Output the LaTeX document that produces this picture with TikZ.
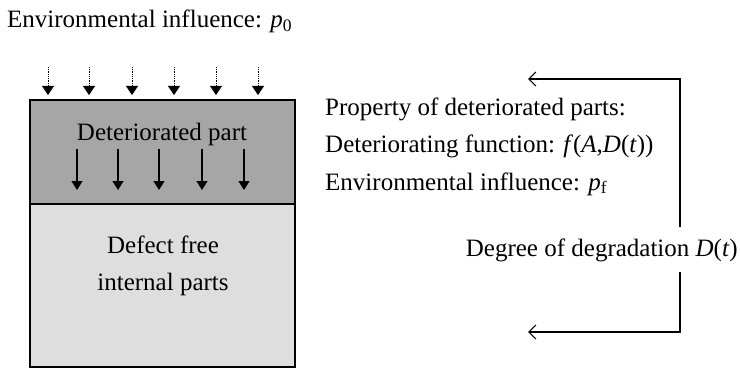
\documentclass[tikz,border=0pt]{standalone}
\usepackage{fontspec}
\setmainfont{Liberation Serif}
\usetikzlibrary{arrows.meta}
\definecolor{darkpart}{RGB}{166,166,166}
\definecolor{lightpart}{RGB}{222,222,222}
\tikzset{
  lbl/.style={font=\fontsize{25}{30}\selectfont, inner sep=0pt, anchor=base west},
  clbl/.style={font=\fontsize{25}{30}\selectfont, inner sep=0pt, anchor=base},
  envarrow/.style={densely dotted, line width=0.8pt, -{Triangle[length=9pt,width=12pt]}},
  detarrow/.style={line width=1.2pt, -{Triangle[length=9pt,width=11pt]}},
  fbline/.style={line width=1.2pt, -{Straight Barb[length=7pt,width=14pt]}}
}
\begin{document}
\begin{tikzpicture}[x=1pt,y=-1pt]
\useasboundingbox (0,0) rectangle (740,369);
% boxes
\draw[line width=1.2pt, fill=lightpart] (30,204) rectangle (295,367);
\draw[line width=1.2pt, fill=darkpart] (30,100) rectangle (295,204);
% top text
\node[lbl] (env) at (7,28) {Environmental influence: \textit{p}\textsubscript{0}};
% dotted arrows
\foreach \x [count=\i] in {48,89,132,174,216,258}{
  \coordinate (ds\i) at (\x,67);
  \coordinate (de\i) at (\x,95);
  \draw[envarrow] (ds\i) -- (de\i);
}
\node[clbl] (det) at (162,140) {Deteriorated part};
\foreach \x [count=\i] in {77,118,159,202,244}{
  \coordinate (ss\i) at (\x,149);
  \coordinate (se\i) at (\x,190);
  \draw[detarrow] (ss\i) -- (se\i);
}
\node[clbl] (def1) at (163,253) {Defect free};
\node[clbl] (def2) at (163,290) {internal parts};
% right text
\node[lbl] (prop) at (325,116) {Property of deteriorated parts:};
\node[lbl] (func) at (325,153) {Deteriorating function: \textit{f}(\textit{A},\textit{D}(\textit{t}))};
\node[lbl] (envf) at (325,190) {Environmental influence: \textit{p}\textsubscript{f}};
\node[lbl, anchor=base east] (deg) at (738,256) {Degree of degradation \textit{D}(\textit{t})};
% feedback
\coordinate (ttip) at (528,79);
\coordinate (btip) at (528,332);
\draw[fbline] (680,227) -- (680,79) -- (ttip);
\draw[fbline] (680,272) -- (680,332) -- (btip);
\end{tikzpicture}
\end{document}
